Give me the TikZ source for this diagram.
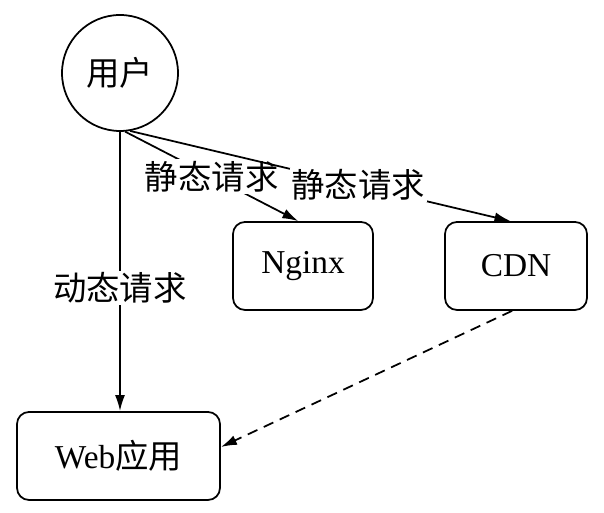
\documentclass[tikz,border=0pt]{standalone}
\usepackage{fontspec}
\setmainfont{Liberation Serif}
\newfontfamily\cjk{Noto Sans CJK SC}
\usetikzlibrary{arrows.meta}

\begin{document}
\begin{tikzpicture}[
    font=\fontsize{19}{23}\selectfont,
    every path/.style={line width=1pt},
    box/.style={draw, rounded corners=0.24cm, minimum width=2.8cm, minimum height=1.76cm},
    req/.style={fill=white, inner sep=1pt},
    >={Latex[length=0.32cm, width=0.2cm]}
]
\useasboundingbox (0,0) rectangle (12.08,10.26);

\node[draw, circle, minimum size=2.32cm] (user) at (2.4,8.8) {\cjk 用户};
\node[box] (nginx) at (6.06,4.94) {Nginx};
\node[box, minimum width=2.84cm] (cdn) at (10.32,4.94) {CDN};
\node[box, minimum width=4.06cm] (web) at (2.37,1.14) {Web{\cjk 应用}};

\draw[->] (user.south) -- node[req, pos=0.56] {\cjk 动态请求} (user.south |- web.north);
\draw[->] (user.-85) -- node[req, pos=0.5] {\cjk 静态请求} (nginx.96);
\draw[->] (user.-80) -- node[req, pos=0.6] {\cjk 静态请求} (cdn.97);
\draw[->, dashed, dash pattern=on 6pt off 4pt] (cdn.-95) -- (web.5);

\end{tikzpicture}
\end{document}
